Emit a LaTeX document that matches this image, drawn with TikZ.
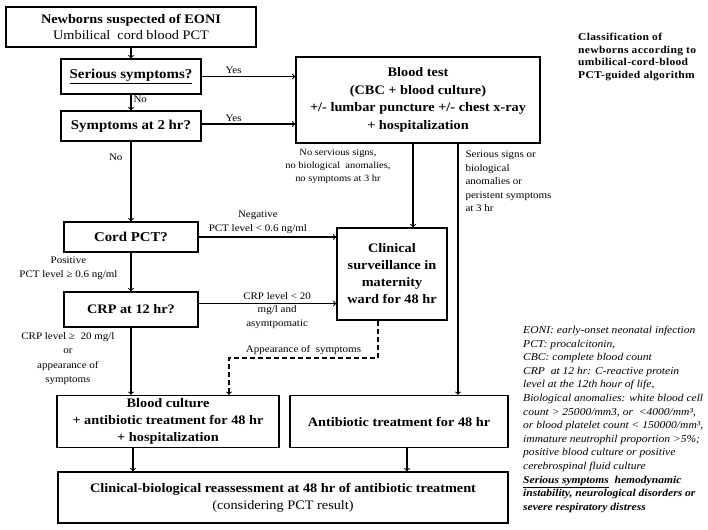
\documentclass[tikz,border=0pt]{standalone}
\usepackage{fontspec}
\setmainfont{Liberation Serif}[FakeStretch=1.1]
\usetikzlibrary{arrows}

\tikzset{
  box/.style={draw, line width=1.5pt, align=center, inner sep=0pt, font=\bfseries\fontsize{13}{17}\selectfont},
  lbl/.style={align=center, inner sep=0pt, font=\fontsize{10}{13.5}\selectfont},
  link/.style={->, >=to, line width=1.1pt},
}

\begin{document}
\begin{tikzpicture}[x=1pt,y=-1pt]
\useasboundingbox (0,0) rectangle (708,529);
% left column of boxes
\node[box, minimum width=250pt, minimum height=40pt, font=\bfseries\fontsize{13}{16}\selectfont] (newborn) at (131,27) {Newborns suspected of EONI\\\mdseries Umbilical\ \ cord blood PCT};
\node[box, minimum width=140pt, minimum height=35pt, font=\bfseries\fontsize{13.5}{17}\selectfont] (serious) at (131,76.5) {\underline{Serious symptoms?}};
\node[box, minimum width=140pt, minimum height=30pt, font=\bfseries\fontsize{13.5}{17}\selectfont] (twohr) at (131,126) {Symptoms at 2 hr?};
\node[box, minimum width=134pt, minimum height=30pt, font=\bfseries\fontsize{13.5}{17}\selectfont] (cord) at (131,237) {Cord PCT?};
\node[box, minimum width=134pt, minimum height=35pt] (crp) at (131,309.5) {CRP at 12 hr?};
% right part
\node[box, minimum width=244pt, minimum height=86pt, font=\bfseries\fontsize{13}{17.5}\selectfont] (bloodtest) at (418,100) {Blood test\\(CBC + blood culture)\\+/- lumbar puncture +/- chest x-ray\\+ hospitalization};
\node[box, minimum width=110pt, minimum height=92pt] (surv) at (392,274) {Clinical\\surveillance in\\maternity\\ward for 48 hr};
% bottom boxes
\node[box, minimum width=222pt, minimum height=52pt] (culture) at (168,421.5) {Blood culture\\+ antibiotic treatment for 48 hr\\+ hospitalization};
\node[box, minimum width=218pt, minimum height=52pt] (antibio) at (399,421.5) {Antibiotic treatment for 48 hr};
\node[box, minimum width=450pt, minimum height=51pt] (reassess) at (283,497.5) {Clinical-biological reassessment at 48 hr of antibiotic treatment\\\mdseries (considering PCT result)};

% text on the right
\node[anchor=north west, align=left, inner sep=0pt, font=\bfseries\fontsize{10.5}{12.7}\selectfont\addfontfeature{LetterSpace=3}] (title) at (578,33) {Classification of\\newborns according to\\umbilical-cord-blood\\PCT-guided algorithm};
\node[anchor=north west, align=left, inner sep=0pt, font=\itshape\fontsize{10.5}{13.6}\selectfont] (legend) at (523,326) {EONI: early-onset neonatal infection\\
PCT: procalcitonin,\\
CBC: complete blood count\\
CRP\ \ at 12 hr: C-reactive protein\\
level at the 12th hour of life,\\
Biological anomalies: white blood cell\\
count > 25000/mm3, or\ \ <4000/mm³,\\
or blood platelet count < 150000/mm³,\\
immature neutrophil proportion >5\%;\\
positive blood culture or positive\\
cerebrospinal fluid culture\\
\textbf{\underline{Serious symptoms}\ \ hemodynamic}\\
\textbf{instability, neurological disorders or}\\
\textbf{severe respiratory distress}};

% x positions of the vertical connectors
\coordinate (survin) at (413,0);
\coordinate (sevline) at (458,0);
\coordinate (dashturn) at (229,358);
\coordinate (survdash) at (378,0);
\coordinate (about) at (407,0);
\coordinate (cultout) at (133,0);

% connectors
\draw[link] (newborn) -- (serious);
\draw[link] (serious.east) -- (serious.east -| bloodtest.west) node[lbl, above=2pt, pos=.34] (yes1) {Yes};
\draw[link] (serious) -- (twohr) node[lbl, right=2pt, pos=.3] (no1) {No};
\draw[link] ([yshift=2pt]twohr.east) -- ([yshift=2pt]twohr.east -| bloodtest.west) node[lbl, above=2pt, pos=.34] (yes2) {Yes};
\draw[link] (twohr) -- (cord) node[lbl, left=8pt, pos=.2] (no2) {No};
\draw[link] (cord.east) -- (cord.east -| surv.west) node[lbl, above=3pt, pos=.43] (neg) {Negative\\PCT level < 0.6 ng/ml};
\draw[link] (cord) -- (crp) node[lbl, left=13pt, pos=.4] (pos) {Positive\\PCT level ≥ 0.6 ng/ml};
\draw[link] ([yshift=6pt]crp.east) -- ([yshift=6pt]crp.east -| surv.west) node[lbl, pos=.57, yshift=-7pt] (crpneg) {CRP level < 20\\mg/l and\\asymtpomatic};
\draw[link] (crp) -- (culture.north -| crp) node[lbl, left=16pt, pos=.46, font=\fontsize{10}{14.3}\selectfont] (crppos) {CRP level ≥\ \ 20 mg/l\\or\\appearance of\\symptoms};
\draw[link] (bloodtest.south -| survin) -- (surv.north -| survin) node[lbl, left=22pt, pos=.27, font=\fontsize{9.5}{13}\selectfont] (nosigns) {No servious signs,\\no biological\ \ anomalies,\\no symptoms at 3 hr};
\draw[link] (bloodtest.south -| sevline) -- (antibio.north -| sevline) node[lbl, align=left, right=7pt, pos=.15] (signs) {Serious signs or\\biological\\anomalies or\\peristent symptoms\\at 3 hr};
\draw[link, dash pattern=on 5pt off 3pt] (surv.south -| survdash) |- (dashturn) node[lbl, above=3pt, pos=.75] (appear) {Appearance of\ \ symptoms} -- (dashturn |- culture.north);
\draw[link] (culture.south -| cultout) -- (reassess.north -| cultout);
\draw[link] (antibio.south -| about) -- (reassess.north -| about);

\end{tikzpicture}
\end{document}
